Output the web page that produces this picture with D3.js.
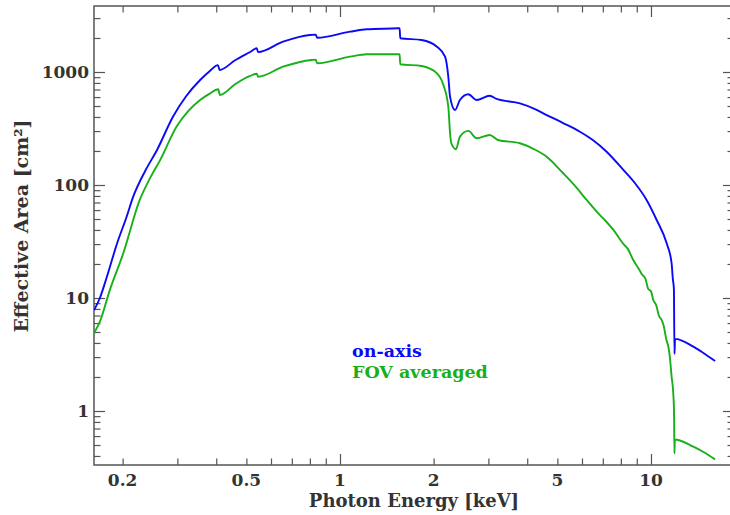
<!DOCTYPE html>
<html>
<head>
<meta charset="utf-8">
<script src="https://cdn.jsdelivr.net/npm/d3@7/dist/d3.min.js"></script>
<style>
  html, body { margin: 0; padding: 0; background: #fff; }
  svg { display: block; }
  text { font-family: "DejaVu Serif", serif; font-weight: bold; fill: #333; }
</style>
</head>
<body>
<svg id="chart" width="730" height="515"></svg>
<script>
// ---- data ----
const energyOnAxis = [0.1618, 0.169, 0.178, 0.192, 0.206, 0.216, 0.237, 0.258, 0.290, 0.320, 0.355, 0.380, 0.405, 0.410, 0.460, 0.514, 0.540, 0.545,
  0.656, 0.80, 0.835, 0.845, 1.077, 1.22, 1.537, 1.555, 1.562, 1.83, 2.05, 2.177, 2.23, 2.259, 2.343, 2.43, 2.586, 2.75,
  3.03, 3.19, 3.79, 4.2, 4.62, 5.2, 5.91, 6.5, 7.20, 8.15, 8.9, 9.68, 10.43, 11.23, 11.65, 11.75, 11.85, 11.9, 11.95, 13.68, 14.7, 16.07];
const areaOnAxis = [7.8, 10.0, 15.4, 30.5, 52.4, 78, 135, 204, 400, 610, 849, 1010, 1150, 1042, 1270, 1503, 1622, 1500,
  1854, 2125, 2140, 2010, 2274, 2388, 2436, 2440, 1990, 1919, 1675, 1367, 908, 604, 461, 565, 635, 565,
  617, 577, 528, 475, 416, 355, 296, 250, 197, 136, 103, 73.7, 49, 30.5, 20.3, 15, 12, 3.2, 4.35, 3.71, 3.28, 2.77];

const energyFov = [0.1618, 0.169, 0.182, 0.201, 0.227, 0.245, 0.264, 0.298, 0.325, 0.355, 0.380, 0.406, 0.411, 0.460, 0.514, 0.540, 0.545,
  0.656, 0.811, 0.835, 0.845, 1.077, 1.22, 1.555, 1.562, 1.83, 2.05, 2.15, 2.23, 2.259, 2.28, 2.36, 2.43, 2.586, 2.75,
  3.03, 3.22, 3.79, 4.2, 4.62, 5.22, 5.7, 6.21, 6.9, 7.1, 7.57, 8.2, 8.4, 8.77, 9.2, 9.35, 9.6, 9.8, 10.0, 10.17, 10.4, 10.6, 10.82,
  11.0, 11.2, 11.37, 11.5, 11.65, 11.78, 11.86, 11.9, 11.93, 13.68, 14.7, 16.07];
const areaFov = [4.87, 6.17, 11.8, 24.9, 73.7, 115, 166, 328, 450, 565, 640, 703, 626, 780, 922, 965, 908,
  1114, 1277, 1285, 1194, 1367, 1435, 1435, 1170, 1130, 973, 767, 493, 287, 234, 207, 268, 301, 259,
  277, 250, 234, 208, 178, 127, 98, 73.7, 53, 49, 40, 29.5, 27.5, 21.7, 17.5, 16.2, 14.8, 12.0, 11.5, 9.6, 8.6, 7.0, 6.39,
  5.6, 4.3, 3.71, 3.0, 2.01, 1.5, 1.0, 0.42, 0.56, 0.483, 0.436, 0.373];

const xTickLabels = [0.2, 0.5, 1, 2, 5, 10];
const yTickLabels = [1, 10, 100, 1000];
const seriesNames = ["on-axis", "FOV averaged"];
const seriesColors = ["#0a0af5", "#18b018"];

// ---- layout ----
const L = 94, R = 734, T = 6, B = 465;
const svg = d3.select("#chart");

const x = d3.scaleLog().domain([0.1618, 18.49]).range([L, R]);
const y = d3.scaleLog().domain([0.3327, 3837]).range([B, T]);

const xMajor = [1, 10];
const xMinor = [];
[0.1, 1, 10].forEach(d => { for (let k = 2; k <= 9; k++) { const v = d * k; if (v >= x.domain()[0] && v <= x.domain()[1]) xMinor.push(v); } });
const yMajor = [1, 10, 100, 1000];
const yMinor = [];
[0.1, 1, 10, 100, 1000].forEach(d => { for (let k = 2; k <= 9; k++) { const v = d * k; if (v >= y.domain()[0] && v <= y.domain()[1]) yMinor.push(v); } });

const majLen = 11, minLen = 6.5;
const axisColor = "#555";

function drawAxis(gen, vals, len, transform) {
  const g = svg.append("g").attr("transform", transform)
    .call(gen.tickValues(vals).tickSizeInner(-len).tickSizeOuter(0).tickFormat(""));
  g.select(".domain").remove();
  g.selectAll("line").attr("stroke", axisColor).attr("stroke-width", 1.2);
}
drawAxis(d3.axisBottom(x), xMajor, majLen, `translate(0,${B})`);
drawAxis(d3.axisBottom(x), xMinor, minLen, `translate(0,${B})`);
drawAxis(d3.axisTop(x), xMajor, majLen, `translate(0,${T})`);
drawAxis(d3.axisTop(x), xMinor, minLen, `translate(0,${T})`);
drawAxis(d3.axisLeft(y), yMajor, majLen, `translate(${L},0)`);
drawAxis(d3.axisLeft(y), yMinor, minLen, `translate(${L},0)`);
drawAxis(d3.axisRight(y), yMajor, majLen, `translate(${R},0)`);
drawAxis(d3.axisRight(y), yMinor, minLen, `translate(${R},0)`);

svg.append("rect").attr("x", L).attr("y", T).attr("width", R - L).attr("height", B - T)
  .attr("fill", "none").attr("stroke", axisColor).attr("stroke-width", 1.5);

svg.append("g").selectAll("text").data(xTickLabels).join("text")
  .attr("x", d => x(d)).attr("y", B + 21).attr("text-anchor", "middle")
  .attr("font-size", 17).text(d => d);
svg.append("g").selectAll("text").data(yTickLabels).join("text")
  .attr("x", L - 5).attr("y", d => y(d) + 6.5).attr("text-anchor", "end")
  .attr("font-size", 17).text(d => d);

svg.append("text").attr("x", 414).attr("y", 507).attr("text-anchor", "middle")
  .attr("font-size", 18).text("Photon Energy [keV]");
svg.append("text").attr("transform", "translate(28,226) rotate(-90)").attr("text-anchor", "middle")
  .attr("font-size", 19).text("Effective Area [cm²]");

svg.append("clipPath").attr("id", "clip").append("rect")
  .attr("x", L).attr("y", T).attr("width", R - L).attr("height", B - T);

const line = d3.line().x(d => x(d[0])).y(d => y(d[1])).curve(d3.curveMonotoneX);
const series = [
  d3.zip(energyOnAxis, areaOnAxis),
  d3.zip(energyFov, areaFov)
];
svg.append("g").attr("clip-path", "url(#clip)").selectAll("path").data(series).join("path")
  .attr("d", line).attr("fill", "none")
  .attr("stroke", (d, i) => seriesColors[i]).attr("stroke-width", 1.9)
  .attr("stroke-linejoin", "round");

svg.append("g").selectAll("text").data(seriesNames).join("text")
  .attr("x", 352).attr("y", (d, i) => 357 + i * 21)
  .attr("font-size", 17.5).style("fill", (d, i) => seriesColors[i]).text(d => d);
</script>
</body>
</html>
